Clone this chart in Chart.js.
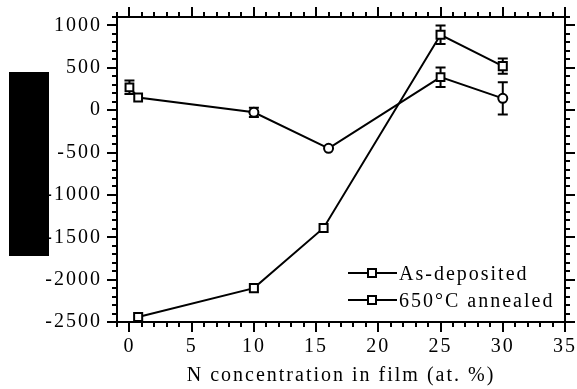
<!DOCTYPE html>
<html lang="en">

<head>
    <meta charset="UTF-8" />
    <title>Stress vs N concentration</title>
    <script src="https://cdn.jsdelivr.net/npm/chart.js"></script>
    <style>
        * {
            margin: 0;
            padding: 0;
            box-sizing: border-box;
        }

        body {
            background-color: #fff;
            width: 577px;
            height: 389px;
            overflow: hidden;
        }

        canvas {
            display: block;
        }
    </style>
</head>

<body>
    <canvas id="stressChart" width="577" height="389"></canvas>
    <script>
        // valeurs
        const nDeposited = [0, 0.7, 10, 16, 25, 30];
        const stressDeposited = [270, 150, -25, -450, 390, 140];
        const errDeposited = [80, 0, 55, 0, 115, 190];

        const nAnnealed = [0.7, 10, 15.6, 25, 30];
        const stressAnnealed = [-2440, -2100, -1390, 890, 520];
        const errAnnealed = [0, 0, 0, 110, 90];

        const seriesNames = ['As-deposited', '650\u00B0C annealed'];
        const xTicks = [0, 5, 10, 15, 20, 25, 30, 35];
        const yTicks = [-2500, -2000, -1500, -1000, -500, 0, 500, 1000];
        const xTitle = 'N concentration in film (at. %)';

        const FONT = { family: '"Liberation Serif", "Times New Roman", serif', size: 20 };

        // cadre, graduations sur les 4 cotes, barres d'erreur, legende
        const framePlugin = {
            id: 'frame',
            beforeLayout(chart) { chart.ctx.letterSpacing = '2px'; },
            beforeDraw(chart) { chart.ctx.letterSpacing = '2px'; },
            beforeDatasetsDraw(chart) {
                const ctx = chart.ctx;
                const yScale = chart.scales.y;
                ctx.save();
                ctx.strokeStyle = '#000';
                ctx.lineWidth = 2;
                chart.data.datasets.forEach((ds, di) => {
                    const meta = chart.getDatasetMeta(di);
                    ds.errors.forEach((e, i) => {
                        if (!e) return;
                        const pt = meta.data[i];
                        const v = ds.data[i].y;
                        const top = yScale.getPixelForValue(v + e);
                        const bot = yScale.getPixelForValue(v - e);
                        ctx.beginPath();
                        ctx.moveTo(pt.x, top); ctx.lineTo(pt.x, bot);
                        ctx.moveTo(pt.x - 5, top); ctx.lineTo(pt.x + 5, top);
                        ctx.moveTo(pt.x - 5, bot); ctx.lineTo(pt.x + 5, bot);
                        ctx.stroke();
                    });
                });
                ctx.restore();
            },
            afterDraw(chart) {
                const { ctx, chartArea: a, scales: { x, y } } = chart;
                ctx.save();
                ctx.strokeStyle = '#000';
                ctx.fillStyle = '#000';
                ctx.lineWidth = 2;
                ctx.strokeRect(a.left, a.top, a.right - a.left, a.bottom - a.top);

                ctx.beginPath();
                for (let v = -1; v <= 35; v++) {
                    const px = Math.round(x.getPixelForValue(v));
                    const len = v % 5 === 0 ? 10 : 5;
                    ctx.moveTo(px, a.bottom); ctx.lineTo(px, a.bottom + len);
                    ctx.moveTo(px, a.top); ctx.lineTo(px, a.top - len);
                }
                for (let v = -2500; v <= 1100; v += 100) {
                    const py = Math.round(y.getPixelForValue(v));
                    const len = v % 500 === 0 ? 10 : 5;
                    ctx.moveTo(a.left, py); ctx.lineTo(a.left - len, py);
                    ctx.moveTo(a.right, py); ctx.lineTo(a.right + len, py);
                }
                ctx.stroke();

                // bloc noir sur le titre de l'axe y
                ctx.fillRect(9, 72, 40, 184);

                // legende
                ctx.font = FONT.size + 'px ' + FONT.family;
                ctx.textAlign = 'left';
                ctx.textBaseline = 'middle';
                ctx.lineWidth = 2;
                seriesNames.forEach((name, i) => {
                    const ly = 273 + i * 27;
                    ctx.beginPath();
                    ctx.moveTo(348, ly); ctx.lineTo(397, ly);
                    ctx.stroke();
                    ctx.fillStyle = '#fff';
                    ctx.fillRect(368, ly - 4, 8, 8);
                    ctx.strokeRect(368, ly - 4, 8, 8);
                    ctx.fillStyle = '#000';
                    ctx.fillText(name, 399, ly + 2);
                });
                ctx.restore();
            }
        };

        const ctx = document.getElementById('stressChart').getContext('2d');

        new Chart(ctx, {
            type: 'line',
            data: {
                datasets: [{
                    label: seriesNames[0],
                    data: nDeposited.map((n, i) => ({ x: n, y: stressDeposited[i] })),
                    errors: errDeposited,
                    borderColor: '#000',
                    borderWidth: 2,
                    pointStyle: ['rect', 'rect', 'circle', 'circle', 'rect', 'circle'],
                    pointRadius: [5.5, 5.5, 4.5, 4.5, 5.5, 4.5],
                    pointBorderWidth: 2,
                    pointBorderColor: '#000',
                    pointBackgroundColor: '#fff',
                    tension: 0,
                    fill: false
                },
                {
                    label: seriesNames[1],
                    data: nAnnealed.map((n, i) => ({ x: n, y: stressAnnealed[i] })),
                    errors: errAnnealed,
                    borderColor: '#000',
                    borderWidth: 2,
                    pointStyle: 'rect',
                    pointRadius: 5.7,
                    pointBorderWidth: 2,
                    pointBorderColor: '#000',
                    pointBackgroundColor: '#fff',
                    tension: 0,
                    fill: false
                }]
            },
            options: {
                responsive: false,
                animation: false,
                devicePixelRatio: 1,
                layout: { padding: { top: 17, right: 12, left: 0, bottom: 0 } },
                plugins: {
                    legend: { display: false },
                    tooltip: { enabled: false }
                },
                scales: {
                    x: {
                        type: 'linear',
                        min: -1,
                        max: 35,
                        afterBuildTicks: s => { s.ticks = xTicks.map(v => ({ value: v })); },
                        afterFit: s => { s.height = 67; s.paddingLeft = 0; s.paddingRight = 0; },
                        grid: { display: false, drawTicks: false },
                        border: { display: false },
                        ticks: { font: FONT, color: '#000', padding: 13, maxRotation: 0, autoSkip: false, callback: v => String(v) },
                        title: { display: true, text: xTitle, font: FONT, color: '#000', padding: { top: 0, bottom: 1 } }
                    },
                    y: {
                        min: -2500,
                        max: 1100,
                        afterBuildTicks: s => { s.ticks = yTicks.map(v => ({ value: v })); },
                        afterFit: s => { s.width = 117; s.paddingTop = 0; s.paddingBottom = 0; },
                        grid: { display: false, drawTicks: false },
                        border: { display: false },
                        ticks: { font: FONT, color: '#000', padding: 15, autoSkip: false, callback: v => String(v) }
                    }
                }
            },
            plugins: [framePlugin]
        });
    </script>
</body>

</html>
